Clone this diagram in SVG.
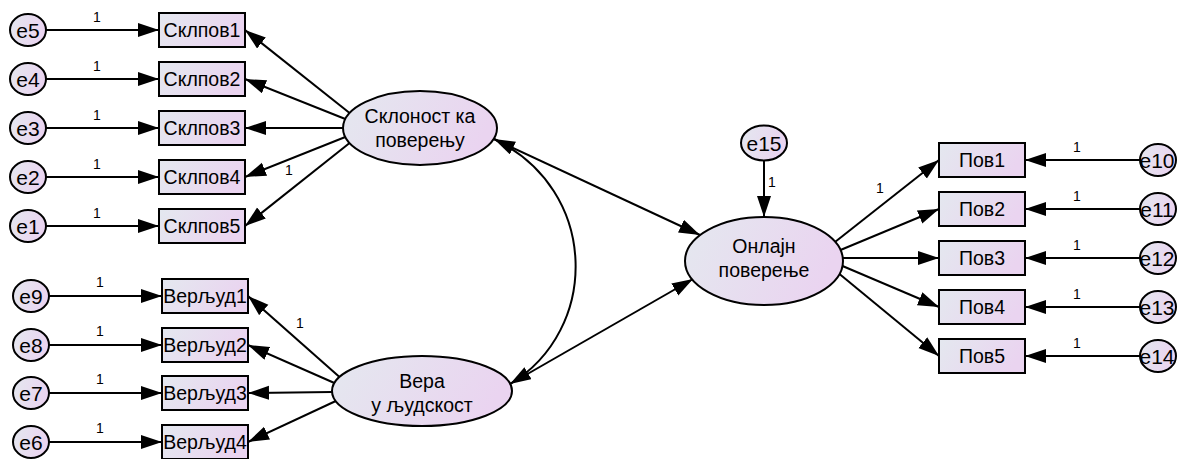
<svg xmlns="http://www.w3.org/2000/svg" width="1177" height="459" viewBox="0 0 1177 459">
<defs>
<linearGradient id="g" x1="0" y1="0" x2="1" y2="0.25">
<stop offset="0" stop-color="#e4e8ef"/>
<stop offset="1" stop-color="#ead4f0"/>
</linearGradient>
<marker id="ah" markerUnits="userSpaceOnUse" markerWidth="22" markerHeight="15" refX="21" refY="7" orient="auto-start-reverse" viewBox="0 0 22 15">
<path d="M0,0 L21,7 L0,14 z" fill="#000"/>
</marker>
<style>
.n{fill:url(#g);stroke:#000;stroke-width:2}
.t{font-family:"Liberation Sans",Arial,sans-serif;font-size:19.5px;fill:#000;text-anchor:middle}
.e{font-family:"Liberation Sans",Arial,sans-serif;font-size:21px;fill:#000;text-anchor:middle}
.l{font-family:"Liberation Sans",Arial,sans-serif;font-size:14px;fill:#000;text-anchor:middle}
.c line,.c path{stroke:#000;stroke-width:2;fill:none;marker-end:url(#ah)}
</style>
</defs>
<rect width="1177" height="459" fill="#fff"/>

<g class="c" id="connectors">
<line x1="46" y1="30" x2="159" y2="30"/>
<line x1="46" y1="79" x2="159" y2="79"/>
<line x1="46" y1="128" x2="159" y2="128"/>
<line x1="46" y1="177" x2="159" y2="177"/>
<line x1="46" y1="226" x2="159" y2="226"/>
<line x1="49" y1="296" x2="162" y2="296"/>
<line x1="49" y1="345" x2="162" y2="345"/>
<line x1="49" y1="393" x2="162" y2="393"/>
<line x1="49" y1="442" x2="162" y2="442"/>
<line x1="349.6" y1="113" x2="245" y2="30"/>
<line x1="345.3" y1="119" x2="245" y2="79"/>
<line x1="343" y1="128" x2="245" y2="128"/>
<line x1="345.3" y1="137" x2="245" y2="177"/>
<line x1="349.6" y1="143" x2="245" y2="226"/>
<line x1="339.5" y1="377" x2="248" y2="296"/>
<line x1="334.4" y1="383" x2="248" y2="345"/>
<line x1="332" y1="392" x2="248" y2="393"/>
<line x1="335.8" y1="401" x2="248" y2="442"/>
<line x1="835" y1="242" x2="939" y2="160"/>
<line x1="840.5" y1="250" x2="939" y2="209"/>
<line x1="843" y1="258" x2="939" y2="258"/>
<line x1="842.5" y1="266" x2="939" y2="307"/>
<line x1="839.5" y1="274" x2="939" y2="356"/>
<line x1="1140" y1="160" x2="1025" y2="160"/>
<line x1="1140" y1="209" x2="1025" y2="209"/>
<line x1="1140" y1="258" x2="1025" y2="258"/>
<line x1="1140" y1="307" x2="1025" y2="307"/>
<line x1="1140" y1="356" x2="1025" y2="356"/>
<line x1="764" y1="160" x2="764" y2="217"/>
<line x1="494" y1="139" x2="700" y2="235"/>
<line x1="510" y1="384" x2="693" y2="279"/>
<path d="M494,139 C600,190 600,330 510,384" style="marker-start:url(#ah)"/>
</g>

<g id="labels" class="l">
<text x="97" y="22">1</text>
<text x="97" y="71">1</text>
<text x="97" y="120">1</text>
<text x="97" y="169">1</text>
<text x="97" y="218">1</text>
<text x="100" y="287">1</text>
<text x="100" y="336">1</text>
<text x="100" y="384">1</text>
<text x="100" y="433">1</text>
<text x="289" y="175">1</text>
<text x="300" y="328">1</text>
<text x="880" y="193">1</text>
<text x="772" y="187">1</text>
<text x="1077" y="152">1</text>
<text x="1077" y="201">1</text>
<text x="1077" y="250">1</text>
<text x="1077" y="299">1</text>
<text x="1077" y="348">1</text>
</g>

<g id="e5"><ellipse class="n" cx="28" cy="30" rx="18" ry="16"/><text class="e" x="28" y="37.5">e5</text></g>
<g id="e4"><ellipse class="n" cx="28" cy="79" rx="18" ry="16"/><text class="e" x="28" y="86.5">e4</text></g>
<g id="e3"><ellipse class="n" cx="28" cy="128" rx="18" ry="16"/><text class="e" x="28" y="135.5">e3</text></g>
<g id="e2"><ellipse class="n" cx="28" cy="177" rx="18" ry="16"/><text class="e" x="28" y="184.5">e2</text></g>
<g id="e1"><ellipse class="n" cx="28" cy="226" rx="18" ry="16"/><text class="e" x="28" y="233.5">e1</text></g>
<g id="e9"><ellipse class="n" cx="31" cy="296" rx="18" ry="16"/><text class="e" x="31" y="303.5">e9</text></g>
<g id="e8"><ellipse class="n" cx="31" cy="345" rx="18" ry="16"/><text class="e" x="31" y="352.5">e8</text></g>
<g id="e7"><ellipse class="n" cx="31" cy="393" rx="18" ry="16"/><text class="e" x="31" y="400.5">e7</text></g>
<g id="e6"><ellipse class="n" cx="31" cy="442" rx="18" ry="16"/><text class="e" x="31" y="449.5">e6</text></g>

<g id="sklpov1"><rect class="n" x="159" y="13" width="86" height="34"/><text class="t" x="202" y="37">Склпов1</text></g>
<g id="sklpov2"><rect class="n" x="159" y="62" width="86" height="34"/><text class="t" x="202" y="86">Склпов2</text></g>
<g id="sklpov3"><rect class="n" x="159" y="111" width="86" height="34"/><text class="t" x="202" y="135">Склпов3</text></g>
<g id="sklpov4"><rect class="n" x="159" y="160" width="86" height="34"/><text class="t" x="202" y="184">Склпов4</text></g>
<g id="sklpov5"><rect class="n" x="159" y="209" width="86" height="34"/><text class="t" x="202" y="233">Склпов5</text></g>

<g id="verljud1"><rect class="n" x="162" y="279" width="86" height="34"/><text class="t" x="205" y="303">Верљуд1</text></g>
<g id="verljud2"><rect class="n" x="162" y="328" width="86" height="34"/><text class="t" x="205" y="352">Верљуд2</text></g>
<g id="verljud3"><rect class="n" x="162" y="376" width="86" height="34"/><text class="t" x="205" y="400">Верљуд3</text></g>
<g id="verljud4"><rect class="n" x="162" y="425" width="86" height="34"/><text class="t" x="205" y="449">Верљуд4</text></g>

<g id="sklonost"><ellipse class="n" cx="420" cy="128" rx="77" ry="37"/><text class="t" x="420" y="123">Склоност ка</text><text class="t" x="420" y="147">поверењу</text></g>
<g id="vera"><ellipse class="n" cx="422" cy="391" rx="90" ry="35"/><text class="t" x="422" y="388">Вера</text><text class="t" x="422" y="412">у људскост</text></g>
<g id="onlajn"><ellipse class="n" cx="764" cy="261" rx="79" ry="44"/><text class="t" x="764" y="253">Онлајн</text><text class="t" x="764" y="277">поверење</text></g>
<g id="e15"><ellipse class="n" cx="764" cy="143" rx="23" ry="17.5"/><text class="e" x="764" y="150.5">e15</text></g>

<g id="pov1"><rect class="n" x="939" y="143" width="86" height="34"/><text class="t" x="982" y="167">Пов1</text></g>
<g id="pov2"><rect class="n" x="939" y="192" width="86" height="34"/><text class="t" x="982" y="216">Пов2</text></g>
<g id="pov3"><rect class="n" x="939" y="241" width="86" height="34"/><text class="t" x="982" y="265">Пов3</text></g>
<g id="pov4"><rect class="n" x="939" y="290" width="86" height="34"/><text class="t" x="982" y="314">Пов4</text></g>
<g id="pov5"><rect class="n" x="939" y="339" width="86" height="34"/><text class="t" x="982" y="363">Пов5</text></g>

<g id="e10"><ellipse class="n" cx="1158" cy="160" rx="18" ry="16"/><text class="e" x="1157" y="167.5">e10</text></g>
<g id="e11"><ellipse class="n" cx="1158" cy="209" rx="18" ry="16"/><text class="e" x="1157" y="216.5">e11</text></g>
<g id="e12"><ellipse class="n" cx="1158" cy="258" rx="18" ry="16"/><text class="e" x="1157" y="265.5">e12</text></g>
<g id="e13"><ellipse class="n" cx="1158" cy="307" rx="18" ry="16"/><text class="e" x="1157" y="314.5">e13</text></g>
<g id="e14"><ellipse class="n" cx="1158" cy="356" rx="18" ry="16"/><text class="e" x="1157" y="363.5">e14</text></g>
</svg>
